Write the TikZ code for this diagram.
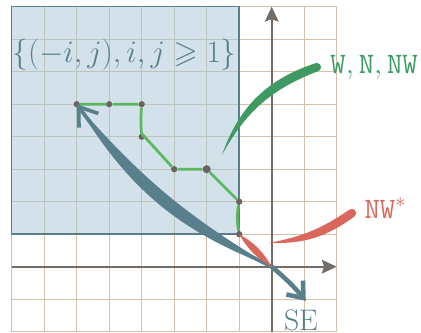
\documentclass[tikz,border=0pt]{standalone}
\usepackage{fix-cm}
\usepackage{amssymb}
\usetikzlibrary{arrows.meta,calc}
\definecolor{gridtan}{HTML}{D4C1A8}
\definecolor{slate}{HTML}{5A7F8C}
\definecolor{setfill}{HTML}{A8C6D6}
\definecolor{pathgreen}{HTML}{5CB860}
\definecolor{labelgreen}{HTML}{3E9A62}
\definecolor{nwred}{HTML}{D9675C}
\definecolor{axisgrey}{HTML}{746C67}
\definecolor{dotgrey}{HTML}{6B6360}
\tikzset{
  dot/.style={circle,fill=dotgrey,inner sep=0pt,minimum size=5.5pt},
  walk/.style={pathgreen,line width=2.4pt},
  axis/.style={axisgrey,line width=2pt,-{Stealth[length=13pt,width=12pt,inset=2pt]}},
  bigfont/.style={font=\fontsize{26}{31}\selectfont},
}
\begin{document}
\begin{tikzpicture}
  \useasboundingbox (-8.36,-2.04) rectangle (4.594,8.206);
  \draw[gridtan,line width=1.2pt] (-8,-2) grid (2,8);
  \filldraw[fill=setfill,fill opacity=0.5,draw=slate,line width=1.3pt] (-8,1) rectangle (-1,8);
  \node[slate,font=\fontsize{27.3}{32}\selectfont] (S) at (-4.53,6.51) {$\{(-i,j),i,j\geqslant 1\}$};
  % axes
  \coordinate (O) at (0,0);
  \coordinate (xl) at (-8,0);
  \coordinate (xr) at (2,0);
  \coordinate (yb) at (0,-2);
  \coordinate (yt) at (0,8);
  \draw[axis] (xl) -- (xr);
  \draw[axis] (yb) -- (yt);
  % lattice path
  \node[dot] (P1) at (-6,5) {};
  \node[dot] (P2) at (-5,5) {};
  \node[dot] (P3) at (-4,5) {};
  \node[dot] (P4) at (-4,4) {};
  \node[dot] (P5) at (-3,3) {};
  \node[dot,minimum size=7pt] (P6) at (-2,3) {};
  \node[dot] (P7) at (-1,2) {};
  \node[dot] (P8) at (-1,1) {};
  \draw[walk] (P1) -- (P2) -- (P3) to[bend right=4] (P4) -- (P5) -- (P6) -- (P7) to[bend right=10] (P8);
  % big arrows
  \fill[slate] (O) to[bend left=19] (P1.center) to[bend right=9] (O);
  \draw[slate,line width=3.2pt,-{Straight Barb[length=15pt,width=21pt]}] (O) to[bend left=14] (P1.center);
  \coordinate (se) at (1.05,-1.05);
  \draw[slate,line width=4pt,-{Straight Barb[length=12pt,width=19pt]}] (O) to[bend left=5] (se);
  \node[slate,bigfont,anchor=base,inner sep=0pt] (SE) at (0.9,-1.95) {SE};
  % red step
  \fill[nwred] (P8.center) to[bend left=15] (O) to[bend left=15] (P8.center);
  % green stroke
  \coordinate (wa) at (-1.53,3.44);
  \coordinate (wb) at (1.39,6.14);
  \fill[labelgreen] (wa) to[bend left=26] ($(wb)+(-0.047,0.12)$) -- ($(wb)+(0.047,-0.12)$) to[bend right=20] (wa);
  \fill[labelgreen] (wb) circle (0.13);
  \node[labelgreen,bigfont] (W) at (3.15,6.14) {$\mathtt{W},\mathtt{N},\mathtt{NW}$};
  % red stroke
  \coordinate (ra) at (-0.1,0.73);
  \coordinate (rb) at (2.47,1.65);
  \fill[nwred] (ra) to[bend right=12] ($(rb)+(-0.075,0.107)$) -- ($(rb)+(0.075,-0.107)$) to[bend left=19] (ra);
  \fill[nwred] (rb) circle (0.13);
  \node[nwred,bigfont] (NW) at (3.5,1.8) {$\mathtt{NW}^*$};
\end{tikzpicture}
\end{document}
